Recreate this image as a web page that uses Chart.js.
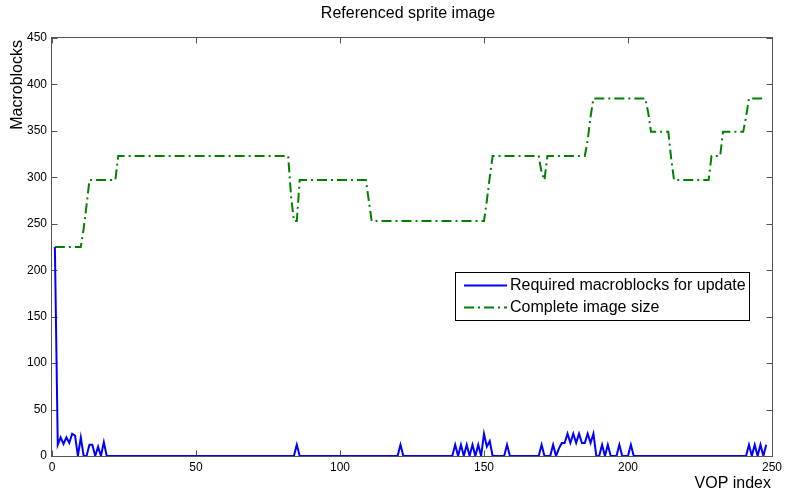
<!DOCTYPE html>
<html>
<head>
<meta charset="utf-8">
<script src="https://cdn.jsdelivr.net/npm/chart.js@4/dist/chart.umd.min.js"></script>
<style>
  html, body { margin: 0; padding: 0; background: #ffffff; }
  #wrap { width: 786px; height: 496px; position: relative; }
</style>
</head>
<body>
<div id="wrap"><canvas id="c"></canvas></div>
<script>
// Texts
const chartTitle = 'Referenced sprite image';
const xAxisTitle = 'VOP index';
const yAxisTitle = 'Macroblocks';
const seriesNames = ['Required macroblocks for update', 'Complete image size'];

// Tick values
const xTicks = [0, 50, 100, 150, 200, 250];
const yTicks = [0, 50, 100, 150, 200, 250, 300, 350, 400, 450];

// Macroblocks that must be refreshed for each VOP (index 1..248)
const requiredMacroblocks = [
  225, 12, 20, 13, 20, 14, 24, 22, 0, 20,
  0, 0, 12, 12, 0, 10, 0, 15, 0, 0,
  0, 0, 0, 0, 0, 0, 0, 0, 0, 0,
  0, 0, 0, 0, 0, 0, 0, 0, 0, 0,
  0, 0, 0, 0, 0, 0, 0, 0, 0, 0,
  0, 0, 0, 0, 0, 0, 0, 0, 0, 0,
  0, 0, 0, 0, 0, 0, 0, 0, 0, 0,
  0, 0, 0, 0, 0, 0, 0, 0, 0, 0,
  0, 0, 0, 0, 12, 0, 0, 0, 0, 0,
  0, 0, 0, 0, 0, 0, 0, 0, 0, 0,
  0, 0, 0, 0, 0, 0, 0, 0, 0, 0,
  0, 0, 0, 0, 0, 0, 0, 0, 0, 0,
  12, 0, 0, 0, 0, 0, 0, 0, 0, 0,
  0, 0, 0, 0, 0, 0, 0, 0, 0, 12,
  0, 12, 0, 12, 0, 12, 0, 12, 0, 24,
  10, 16, 0, 0, 0, 0, 0, 12, 0, 0,
  0, 0, 0, 0, 0, 0, 0, 0, 0, 12,
  0, 0, 0, 12, 0, 8, 14, 14, 24, 14,
  24, 14, 24, 14, 14, 24, 14, 24, 0, 0,
  12, 0, 12, 0, 0, 0, 12, 0, 0, 0,
  12, 0, 0, 0, 0, 0, 0, 0, 0, 0,
  0, 0, 0, 0, 0, 0, 0, 0, 0, 0,
  0, 0, 0, 0, 0, 0, 0, 0, 0, 0,
  0, 0, 0, 0, 0, 0, 0, 0, 0, 0,
  0, 12, 0, 12, 0, 12, 0, 12
];

// Size of the complete sprite image in macroblocks for each VOP
const completeImageSize = [
  225, 225, 225, 225, 225, 225, 225, 225, 225, 225,
  245, 270, 297, 297, 297, 297, 297, 297, 297, 297,
  297, 297, 323, 323, 323, 323, 323, 323, 323, 323,
  323, 323, 323, 323, 323, 323, 323, 323, 323, 323,
  323, 323, 323, 323, 323, 323, 323, 323, 323, 323,
  323, 323, 323, 323, 323, 323, 323, 323, 323, 323,
  323, 323, 323, 323, 323, 323, 323, 323, 323, 323,
  323, 323, 323, 323, 323, 323, 323, 323, 323, 323,
  323, 323, 280, 253, 253, 297, 297, 297, 297, 297,
  297, 297, 297, 297, 297, 297, 297, 297, 297, 297,
  297, 297, 297, 297, 297, 297, 297, 297, 297, 275,
  253, 253, 253, 253, 253, 253, 253, 253, 253, 253,
  253, 253, 253, 253, 253, 253, 253, 253, 253, 253,
  253, 253, 253, 253, 253, 253, 253, 253, 253, 253,
  253, 253, 253, 253, 253, 253, 253, 253, 253, 253,
  275, 300, 323, 323, 323, 323, 323, 323, 323, 323,
  323, 323, 323, 323, 323, 323, 323, 323, 323, 305,
  297, 323, 323, 323, 323, 323, 323, 323, 323, 323,
  323, 323, 323, 323, 323, 340, 365, 385, 385, 385,
  385, 385, 385, 385, 385, 385, 385, 385, 385, 385,
  385, 385, 385, 385, 385, 385, 370, 349, 349, 349,
  349, 349, 349, 349, 320, 297, 297, 297, 297, 297,
  297, 297, 297, 297, 297, 297, 297, 297, 323, 323,
  323, 323, 349, 349, 349, 349, 349, 349, 349, 349,
  365, 385, 385, 385, 385, 385, 385, 385
];

// VOP index of each sample (1-based)
const vopIndex = requiredMacroblocks.map((_, i) => i + 1);

const FONT = '"Liberation Sans", Arial, Helvetica, sans-serif';
const BLUE = '#0000ff';
const GREEN = '#008000';
const AXIS = '#555555';
const DASH_DOT = [10, 4, 2, 4];

function toPoints(values) {
  return values.map((v, i) => ({ x: vopIndex[i], y: v }));
}

// Boxed axes with inward tick marks, titles and an in-plot legend
const axesPlugin = {
  id: 'boxedAxes',
  beforeDatasetsDraw(chart) {
    const { ctx, chartArea: a, scales } = chart;
    const tl = 6;
    ctx.save();
    ctx.strokeStyle = AXIS;
    ctx.lineWidth = 1;
    const L = Math.round(a.left) - 0.5, R = Math.round(a.right) + 0.5;
    const T = Math.round(a.top) - 0.5, B = Math.round(a.bottom) + 0.5;
    ctx.strokeRect(L, T, R - L, B - T);
    ctx.beginPath();
    xTicks.forEach(v => {
      const px = Math.round(scales.x.getPixelForValue(v)) + 0.5;
      ctx.moveTo(px, B); ctx.lineTo(px, B - tl);
      ctx.moveTo(px, T); ctx.lineTo(px, T + tl);
    });
    yTicks.forEach(v => {
      const py = Math.round(scales.y.getPixelForValue(v)) + 0.5;
      ctx.moveTo(L, py); ctx.lineTo(L + tl, py);
      ctx.moveTo(R, py); ctx.lineTo(R - tl, py);
    });
    ctx.stroke();
    ctx.restore();
  },
  afterDraw(chart) {
    const { ctx } = chart;
    ctx.save();
    ctx.fillStyle = '#000';
    ctx.font = '16px ' + FONT;

    // Title
    ctx.textAlign = 'center';
    ctx.textBaseline = 'middle';
    ctx.fillText(chartTitle, 408, 14);

    // X axis title, right-aligned
    ctx.textAlign = 'right';
    ctx.fillText(xAxisTitle, 771, 484);

    // Y axis title, rotated, placed at the top
    ctx.save();
    ctx.translate(18, 40);
    ctx.rotate(-Math.PI / 2);
    ctx.textAlign = 'right';
    ctx.textBaseline = 'middle';
    ctx.fillText(yAxisTitle, 0, 0);
    ctx.restore();

    // Legend
    const bx = 455.5, by = 272.5, bw = 294, bh = 48;
    ctx.fillStyle = '#fff';
    ctx.fillRect(bx, by, bw, bh);
    ctx.strokeStyle = '#000';
    ctx.lineWidth = 1;
    ctx.strokeRect(bx, by, bw, bh);

    const rows = [
      { label: seriesNames[0], color: BLUE, dash: [], y: 285.5 },
      { label: seriesNames[1], color: GREEN, dash: DASH_DOT, y: 307.5 }
    ];
    rows.forEach(r => {
      ctx.beginPath();
      ctx.setLineDash(r.dash);
      ctx.strokeStyle = r.color;
      ctx.lineWidth = 2;
      ctx.moveTo(464, r.y);
      ctx.lineTo(507, r.y);
      ctx.stroke();
      ctx.setLineDash([]);
      ctx.fillStyle = '#000';
      ctx.textAlign = 'left';
      ctx.textBaseline = 'middle';
      ctx.fillText(r.label, 510, r.y);
    });
    ctx.restore();
  }
};

new Chart(document.getElementById('c'), {
  type: 'line',
  data: {
    datasets: [
      {
        label: seriesNames[0],
        data: toPoints(requiredMacroblocks),
        borderColor: BLUE,
        borderWidth: 2,
        pointRadius: 0,
        tension: 0,
        fill: false
      },
      {
        label: seriesNames[1],
        data: toPoints(completeImageSize),
        borderColor: GREEN,
        borderWidth: 2,
        borderDash: DASH_DOT,
        pointRadius: 0,
        tension: 0,
        fill: false
      }
    ]
  },
  options: {
    responsive: true,
    maintainAspectRatio: false,
    animation: false,
    devicePixelRatio: 1,
    layout: { padding: { top: 38, right: 11, left: 0, bottom: 0 } },
    plugins: {
      legend: { display: false },
      title: { display: false },
      tooltip: { enabled: false }
    },
    scales: {
      x: {
        type: 'linear',
        min: 0,
        max: 250,
        afterBuildTicks: s => { s.ticks = xTicks.map(v => ({ value: v })); },
        afterFit: s => { s.height = 40; },
        grid: { display: false, drawTicks: false },
        border: { display: false },
        ticks: { color: '#000', font: { family: FONT, size: 12 }, padding: 4, maxRotation: 0, autoSkip: false }
      },
      y: {
        type: 'linear',
        min: 0,
        max: 450,
        afterBuildTicks: s => { s.ticks = yTicks.map(v => ({ value: v })); },
        afterFit: s => { s.width = 52; },
        grid: { display: false, drawTicks: false },
        border: { display: false },
        ticks: { color: '#000', font: { family: FONT, size: 12 }, padding: 5, autoSkip: false }
      }
    }
  },
  plugins: [axesPlugin]
});
</script>
</body>
</html>
